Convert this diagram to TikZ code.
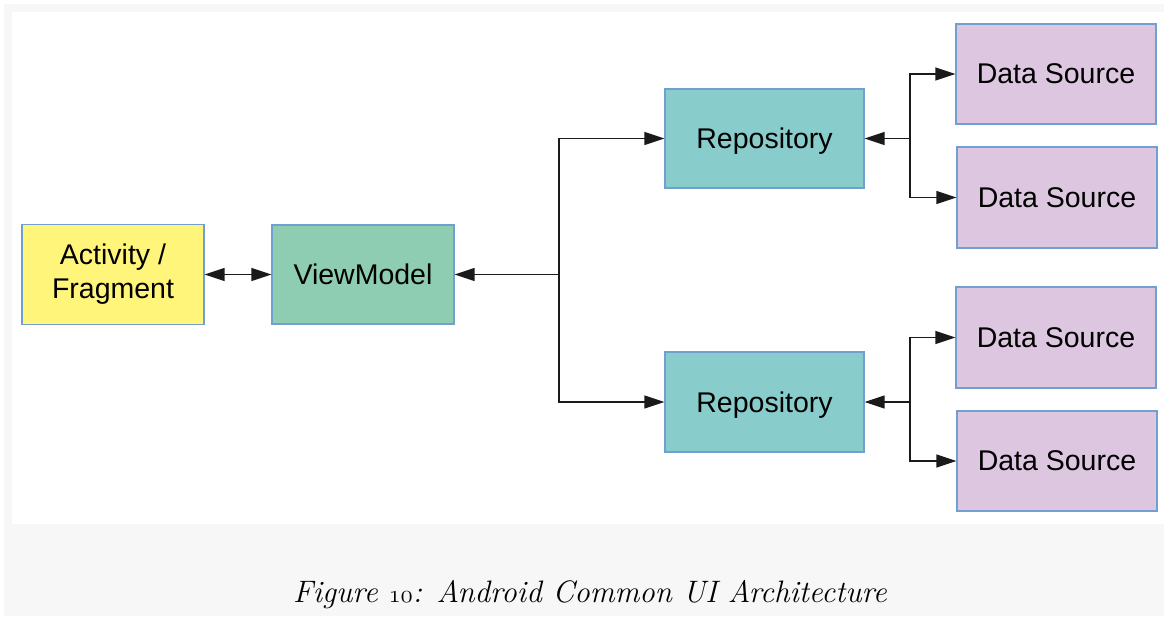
\documentclass[tikz,border=0pt]{standalone}
\usepackage{fontspec}
\setsansfont{Liberation Sans}
\usetikzlibrary{arrows.meta}

\definecolor{pagegray}{HTML}{F7F7F7}
\definecolor{boxline}{HTML}{729FCF}
\definecolor{actfill}{HTML}{FFF57A}
\definecolor{vmfill}{HTML}{8ECDB2}
\definecolor{repofill}{HTML}{88CDCC}
\definecolor{srcfill}{HTML}{DDC6E0}
\definecolor{wire}{HTML}{1A1A1A}

\begin{document}
\begin{tikzpicture}[x=1pt,y=-1pt,
    layer/.style={draw=boxline,line width=1.3pt,minimum width=182pt,minimum height=100pt,
      inner sep=0pt,align=center,font=\sffamily\fontsize{28.5}{34}\selectfont},
    srcbox/.style={layer,fill=srcfill,minimum width=200pt},
    repobox/.style={layer,fill=repofill,minimum width=199pt,text depth=0pt},
    wirearrow/.style={draw=wire,line width=1.5pt,-{Triangle[length=20pt,width=13pt]}}]
            \useasboundingbox (0,0) rectangle (1164,616);
            \fill[pagegray] (4,4) rectangle (1164,616);
            \fill[white] (12,12) rectangle (1164,524);
            % main chain
            \node[layer,fill=actfill] (act) at (113,274.5) {Activity /\\Fragment};
            \node[layer,fill=vmfill,minimum height=99pt] (vm) at (363,274.5) {ViewModel};
            \node[repobox,minimum height=99pt] (repoA) at (764.5,138.5) {Repository};
            \node[repobox] (repoB) at (764.5,402) {Repository};
            % data sources
            \node[srcbox] (srcA) at (1056,74) {Data Source};
            \node[srcbox,minimum height=101pt] (srcB) at (1057,197.5) {Data Source};
            \node[srcbox,minimum height=101pt] (srcC) at (1056,337.5) {Data Source};
            \node[srcbox] (srcD) at (1057,461) {Data Source};
            \coordinate (hubVM) at (559,274.5);
            \coordinate (hubA) at (910,138.5);
            \coordinate (hubB) at (910,402);
            \draw[wirearrow,{Triangle[length=20pt,width=13pt]}-{Triangle[length=20pt,width=13pt]}] (act) -- (vm);
            \draw[wirearrow] (hubVM) -- (vm);
            \draw[wirearrow] (hubVM) |- (repoA.west);
            \draw[wirearrow] (hubVM) |- (repoB.west);
            \draw[wirearrow] (hubA) -- (repoA);
            \draw[wirearrow] (hubA) |- (srcA.west);
            \draw[wirearrow] (hubA) |- (srcB.west);
            \draw[wirearrow] (hubB) -- (repoB);
            \draw[wirearrow] (hubB) |- (srcC.west);
            \draw[wirearrow] (hubB) |- (srcD.west);
            \node[anchor=base,font=\fontsize{31}{36}\selectfont\itshape] (caption) at (590,602)
              {Figure {\usefont{OML}{cmm}{m}{it}10}: Android Common UI Architecture};
        \end{tikzpicture}
\end{document}
